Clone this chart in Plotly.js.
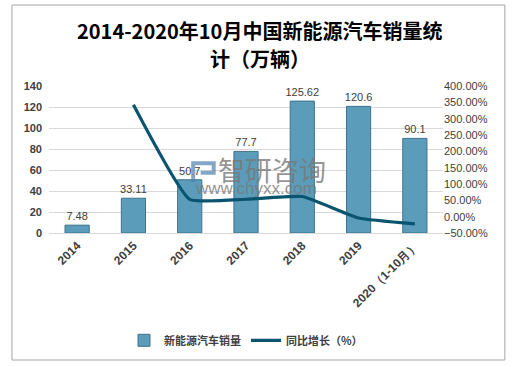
<!DOCTYPE html>
<html><head><meta charset="utf-8">
<script src="https://cdn.plot.ly/plotly-3.0.1.min.js"></script>
<style>html,body{margin:0;padding:0;background:#fff}#c{width:520px;height:367px}</style>
</head><body><div id="c"></div>
<script>
const categories = ['2014','2015','2016','2017','2018','2019','2020（1-10月）'];
const sales = [7.48, 33.11, 50.7, 77.7, 125.62, 120.6, 90.1];
const growth = [null, 342.6, 53.1, 53.3, 61.7, -4.0, -22.0];
const salesName = '新能源汽车销量';
const growthName = '同比增长（%）';
const titleLines = ['2014-2020年10月中国新能源汽车销量统', '计（万辆）'];

const traces = [
  {type:'bar', x:categories, y:sales, name:salesName,
   marker:{color:'#5b9cba', line:{color:'#3f7389', width:1}},
   width:0.43,
   text:sales.map(String), textposition:'outside', cliponaxis:false, constraintext:'none',
   textfont:{family:'Liberation Sans, Arial', size:11, color:'#404040'}},
  {type:'scatter', mode:'lines', x:categories, y:growth, name:growthName, yaxis:'y2',
   line:{color:'#0b5470', width:3.2, shape:'spline', smoothing:0.4}, connectgaps:false}
];

const layout = {
  width:520, height:367,
  margin:{l:49, r:77, t:86, b:134},
  paper_bgcolor:'#fff', plot_bgcolor:'#fff',
  showlegend:true,
  xaxis:{type:'category', tickangle:-45, showgrid:false, showline:true, linecolor:'#d9d9d9', linewidth:1,
    ticks:'', tickfont:{family:'Liberation Sans, Arial', size:12, color:'#404040', weight:'bold'}, fixedrange:true},
  yaxis:{range:[0,140], dtick:20, showgrid:true, gridcolor:'#d9d9d9', gridwidth:1, zeroline:false, showline:false,
    ticks:'', tickfont:{family:'Liberation Sans, Arial', size:11, color:'#404040', weight:'bold'}, ticklabelstandoff:6},
  yaxis2:{overlaying:'y', side:'right', range:[-50,400], dtick:50, tickformat:'.2f', ticksuffix:'%',
    showgrid:false, zeroline:false, showline:false, ticks:'',
    tickfont:{family:'Liberation Sans, Arial', size:11, color:'#404040'}},
  legend:{orientation:'h', x:0.5, xanchor:'center', y:-0.73, yanchor:'middle',
    font:{family:'Noto Sans CJK SC', size:11, color:'#404040', weight:'bold'}, itemwidth:30, tracegroupgap:0},
  shapes:[
    {type:'rect', xref:'paper', yref:'paper', x0:-0.094, x1:1.157, y0:-0.864, y1:1.551,
     line:{color:'#a6a6a6', width:1}, fillcolor:'rgba(0,0,0,0)', layer:'below'},
    {type:'path', xref:'paper', yref:'paper',
     path:'M0.366,0.345 L0.366,0.475 L0.418,0.475 L0.418,0.41 L0.385,0.41',
     line:{color:'rgba(80,130,175,0.7)', width:4}, fillcolor:'rgba(0,0,0,0)'}
  ],
  annotations:[
    {xref:'paper', yref:'paper', x:0.535, y:1.375, text:titleLines[0], showarrow:false, yanchor:'middle',
     font:{family:'Noto Sans CJK SC', size:20, color:'#000', weight:'bold'}},
    {xref:'paper', yref:'paper', x:0.535, y:1.19, text:titleLines[1], showarrow:false, yanchor:'middle',
     font:{family:'Noto Sans CJK SC', size:20, color:'#000', weight:'bold'}},
    {xref:'paper', yref:'paper', x:0.566, y:0.43, text:'智研咨询', showarrow:false,
     font:{family:'Noto Sans CJK SC', size:27, color:'rgba(120,120,120,0.8)'}},
    {xref:'paper', yref:'paper', x:0.525, y:0.225, text:'www.chyxx.com', showarrow:false,
     font:{family:'Liberation Sans, Arial', size:17, color:'rgba(120,120,120,0.8)'}}
  ]
};
Plotly.newPlot('c', traces, layout, {staticPlot:true, displayModeBar:false});
</script></body></html>
